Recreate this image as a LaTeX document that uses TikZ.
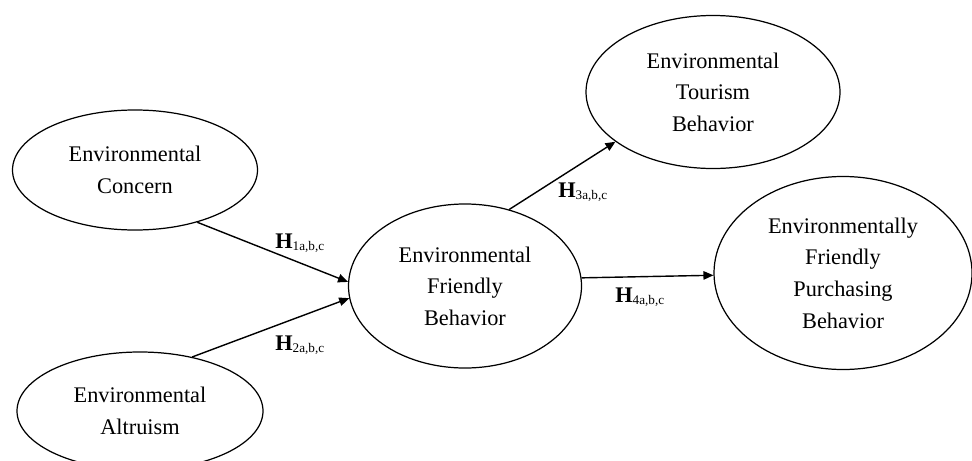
\documentclass[tikz,border=0pt]{standalone}
\usepackage{fontspec}
\setmainfont{Liberation Serif}
\usepackage{tikz}
\usetikzlibrary{arrows.meta, positioning, shapes.geometric}

\newcommand{\hyplab}[1]{\textbf{H}\raisebox{-0.2ex}{\fontsize{7.5}{8}\selectfont #1}}

\begin{document}
\begin{tikzpicture}[
    font=\fontsize{12.7}{18}\selectfont,
    construct/.style={draw, ellipse, line width=0.7pt, inner sep=0pt, align=center},
    path/.style={line width=0.8pt, -{Triangle[length=0.2cm, width=0.17cm]}},
    hlabel/.style={anchor=base west, inner sep=0pt}
  ]
  \path[use as bounding box, clip] (0,0) rectangle (19.44,9.2);

  % Exogene Konstrukte
  \node[construct, minimum width=4.9cm, minimum height=2.4cm] (concern) at (2.70,5.80)
    {Environmental\\Concern};
  \node[construct, minimum width=4.92cm, minimum height=2.36cm] (altruism) at (2.80,0.98)
    {Environmental\\Altruism};

  % Mediator
  \node[construct, minimum width=4.66cm, minimum height=3.28cm] (friendly) at (9.30,3.48)
    {Environmental\\Friendly\\Behavior};

  % Endogene Konstrukte
  \node[construct, minimum width=5.08cm, minimum height=3.06cm] (tourism) at (14.26,7.36)
    {Environmental\\Tourism\\Behavior};
  \node[construct, minimum width=5.16cm, minimum height=3.86cm] (purchasing) at (16.86,3.74)
    {Environmentally\\Friendly\\Purchasing\\Behavior};

  % Pfade
  \draw[path] (concern.-40) -- (friendly.178);
  \draw[path] (altruism.46) -- (friendly.186);
  \draw[path] (friendly.60) -- (tourism.207);
  \draw[path] (friendly.4) -- (purchasing.181);

  % Hypothesen
  \node[hlabel] (h1) at (5.50,4.24) {\hyplab{1a,b,c}};
  \node[hlabel] (h2) at (5.50,2.20) {\hyplab{2a,b,c}};
  \node[hlabel] (h3) at (11.16,5.26) {\hyplab{3a,b,c}};
  \node[hlabel] (h4) at (12.30,3.16) {\hyplab{4a,b,c}};
\end{tikzpicture}
\end{document}
